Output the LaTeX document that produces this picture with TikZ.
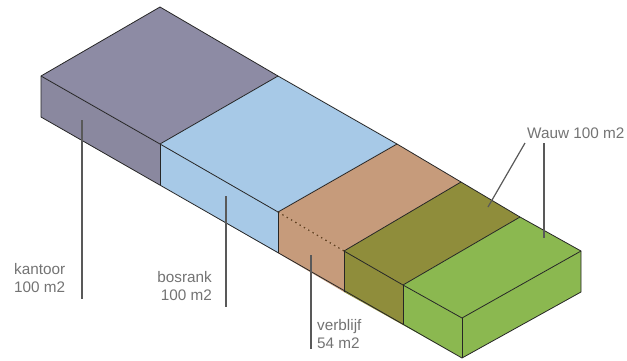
\documentclass[tikz,border=0pt]{standalone}
\usepackage{fontspec}
\setmainfont{Liberation Sans}
\begin{document}
\begin{tikzpicture}[x=1pt,y=-1pt,
  face/.style={draw=none},
  edge/.style={draw=black!85,line width=0.8pt,line join=round},
  hidden/.style={draw=brown!50!black,line width=1.2pt,dash pattern=on 1.5pt off 3.5pt},
  leader/.style={draw=black!65,line width=1.2pt},
  lbl/.style={font=\fontsize{15.3}{18}\selectfont,text=black!55,inner sep=0pt}]
\useasboundingbox (0,0) rectangle (627,360);
\definecolor{kant}{HTML}{8D8BA4}
\definecolor{kantf}{HTML}{8A889F}
\definecolor{bos}{HTML}{A7C9E7}
\definecolor{verb}{HTML}{C69B7B}
\definecolor{wauwa}{HTML}{8F8D3B}
\definecolor{wauwb}{HTML}{8BB850}
% top corners, front edge
\coordinate (F0) at (41,76);
\coordinate (F1) at (160,144);
\coordinate (F2) at (278,212);
\coordinate (F3) at (344,251);
\coordinate (F4) at (403,285);
\coordinate (F5) at (462,318);
% top corners, back edge
\coordinate (B0) at (160,7);
\coordinate (B1) at (278,76);
\coordinate (B2) at (397,144);
\coordinate (B3) at (461,182);
\coordinate (B4) at (520,217);
\coordinate (B5) at (581,251);
% bottom corners
\coordinate (G0) at (41,117);
\coordinate (G1) at (160,185);
\coordinate (G2) at (278,253);
\coordinate (G3) at (344,292);
\coordinate (G4) at (403,325);
\coordinate (G5) at (462,358);
\coordinate (H5) at (581,292);
% faces
\fill[kant] (F0)--(B0)--(B1)--(F1)--cycle;
\fill[kantf] (F0)--(F1)--(G1)--(G0)--cycle;
\fill[bos] (F1)--(B1)--(B2)--(F2)--cycle;
\fill[bos] (F1)--(F2)--(G2)--(G1)--cycle;
\fill[verb] (F2)--(B2)--(B3)--(F3)--cycle;
\fill[verb] (F2)--(F3)--(G3)--(G2)--cycle;
\fill[wauwa] (F3)--(B3)--(B4)--(F4)--cycle;
\fill[wauwa] (F3)--(F4)--(G4)--(G3)--cycle;
\fill[wauwb] (F4)--(B4)--(B5)--(F5)--cycle;
\fill[wauwb] (F4)--(F5)--(G5)--(G4)--cycle;
\fill[wauwb] (F5)--(B5)--(H5)--(G5)--cycle;
% edges
\draw[edge] (G0)--(F0)--(B0)--(B1)--(B2)--(B3)--(B4)--(B5)--(H5)--(G5)--cycle;
\draw[edge] (F0)--(F1)--(F2);
\draw[hidden] (F2)--(F3);
\draw[edge] (F3)--(F4)--(F5)--(B5);
\draw[edge] (F5)--(G5);
\draw[edge] (F1)--(B1) (F2)--(B2) (F3)--(B3) (F4)--(B4);
\draw[edge] (F1)--(G1) (F2)--(G2) (F3)--(G3) (F4)--(G4);
% labels (base anchor = last line baseline)
\node[lbl,anchor=base west,align=left] (kantoor) at (14,292) {kantoor\\100 m2};
\node[lbl,anchor=base east,align=right] (bosrank) at (212,300) {bosrank\\100 m2};
\node[lbl,anchor=base west,align=left] (verblijf) at (317,348) {verblijf\\54 m2};
\node[lbl,anchor=base west] (wauw) at (527,138) {Wauw 100 m2};
% leader lines
\coordinate (k1) at (82,120); \coordinate (k2) at (82,299);
\coordinate (b1) at (226,196); \coordinate (b2) at (226,307);
\coordinate (v1) at (311,255); \coordinate (v2) at (311,349);
\coordinate (w1) at (525,143); \coordinate (w2) at (488,207);
\coordinate (w3) at (544,143); \coordinate (w4) at (544,238);
\draw[leader] (k1)--(k2);
\draw[leader] (b1)--(b2);
\draw[leader] (v1)--(v2);
\draw[leader] (w1)--(w2);
\draw[leader] (w3)--(w4);
\end{tikzpicture}
\end{document}
